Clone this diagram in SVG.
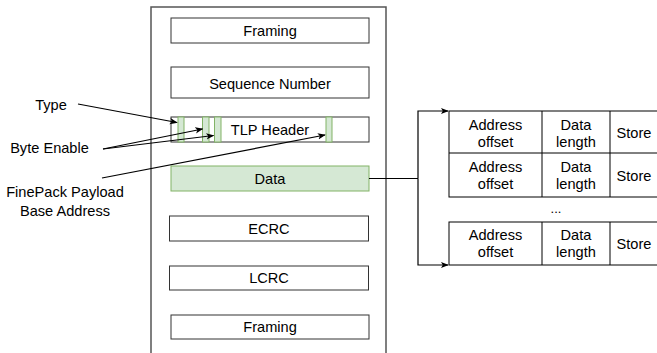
<svg xmlns="http://www.w3.org/2000/svg" width="657" height="353" viewBox="0 0 657 353">
<defs>
<marker id="arr" viewBox="0 0 10 10" refX="9" refY="5" markerWidth="8" markerHeight="8" markerUnits="userSpaceOnUse" orient="auto">
<path d="M0,1 L10,5 L0,9 L2.5,5 Z" fill="#000"/>
</marker>
</defs>
<style>
text{font-family:"Liberation Sans",Arial,Helvetica,sans-serif;font-size:14.6px;fill:#000;text-anchor:middle}
.box{fill:#fff;stroke:#333;stroke-width:1}
.grn{fill:#d5e8d4;stroke:#82b366;stroke-width:1}
.outer{fill:#fff;stroke:#555;stroke-width:1.5}
.ln{fill:none;stroke:#000;stroke-width:1.2}
.tb{fill:#fff;stroke:#000;stroke-width:1}
</style>
<rect width="657" height="353" fill="#fff"/>
<g id="packet">
<rect class="outer" x="151" y="7" width="235" height="360"/>
</g>
<g id="framing-top"><rect class="box" x="171" y="18" width="198" height="25"/><text x="270" y="35.5">Framing</text></g>
<g id="sequence"><rect class="box" x="171" y="67" width="198" height="31"/><text x="270" y="88.5">Sequence Number</text></g>
<g id="tlp-header">
<rect class="box" x="171" y="117" width="198" height="25"/>
<rect class="grn" x="178" y="117" width="6" height="25"/>
<rect class="grn" x="202.5" y="117" width="6.5" height="25"/>
<rect class="grn" x="214.5" y="117" width="6.5" height="25"/>
<rect class="grn" x="326" y="117" width="6" height="25"/>
<text x="270" y="134.5">TLP Header</text>
</g>
<g id="data"><rect class="grn" x="171" y="166" width="198" height="25"/><text x="270" y="183.5">Data</text></g>
<g id="ecrc"><rect class="box" x="169.5" y="216" width="199" height="25"/><text x="269" y="233.5">ECRC</text></g>
<g id="lcrc"><rect class="box" x="169.5" y="266" width="199" height="24"/><text x="269" y="283">LCRC</text></g>
<g id="framing-bottom"><rect class="box" x="171" y="315" width="198" height="24"/><text x="270" y="332">Framing</text></g>
<g id="label-type"><text x="51" y="110">Type</text></g>
<g id="label-byte-enable"><text x="49.5" y="153">Byte Enable</text></g>
<g id="label-finepack"><text x="65" y="197">FinePack Payload</text><text x="65" y="215.5">Base Address</text></g>
<g id="table1">
<rect class="tb" x="449" y="111" width="212" height="86"/>
<line class="tb" x1="449" y1="153" x2="661" y2="153"/>
<line class="tb" x1="542" y1="111" x2="542" y2="197"/>
<line class="tb" x1="610" y1="111" x2="610" y2="197"/>
<text x="495.5" y="129.5">Address</text><text x="495.5" y="146.5">offset</text>
<text x="576" y="129.5">Data</text><text x="576" y="146.5">length</text>
<text x="634" y="138">Store</text>
<text x="495.5" y="172">Address</text><text x="495.5" y="189">offset</text>
<text x="576" y="172">Data</text><text x="576" y="189">length</text>
<text x="634" y="180.5">Store</text>
</g>
<g id="ellipsis"><text x="556" y="213" style="font-size:13px">...</text></g>
<g id="table2">
<rect class="tb" x="449" y="222" width="212" height="43"/>
<line class="tb" x1="542" y1="222" x2="542" y2="265"/>
<line class="tb" x1="610" y1="222" x2="610" y2="265"/>
<text x="495.5" y="240">Address</text><text x="495.5" y="257">offset</text>
<text x="576" y="240">Data</text><text x="576" y="257">length</text>
<text x="634" y="248.5">Store</text>
</g>
<g id="connectors">
<line class="ln" x1="78" y1="104" x2="177" y2="122.5" marker-end="url(#arr)"/>
<line class="ln" x1="103" y1="149" x2="202.5" y2="129" marker-end="url(#arr)"/>
<line class="ln" x1="103" y1="149" x2="213.5" y2="135.5" marker-end="url(#arr)"/>
<line class="ln" x1="102" y1="178" x2="325" y2="135" marker-end="url(#arr)"/>
<line class="ln" x1="369" y1="178.5" x2="418" y2="178.5"/>
<polyline class="ln" points="418,178.5 418,111 448,111" marker-end="url(#arr)"/>
<polyline class="ln" points="418,178.5 418,265 448,265" marker-end="url(#arr)"/>
</g>
</svg>
